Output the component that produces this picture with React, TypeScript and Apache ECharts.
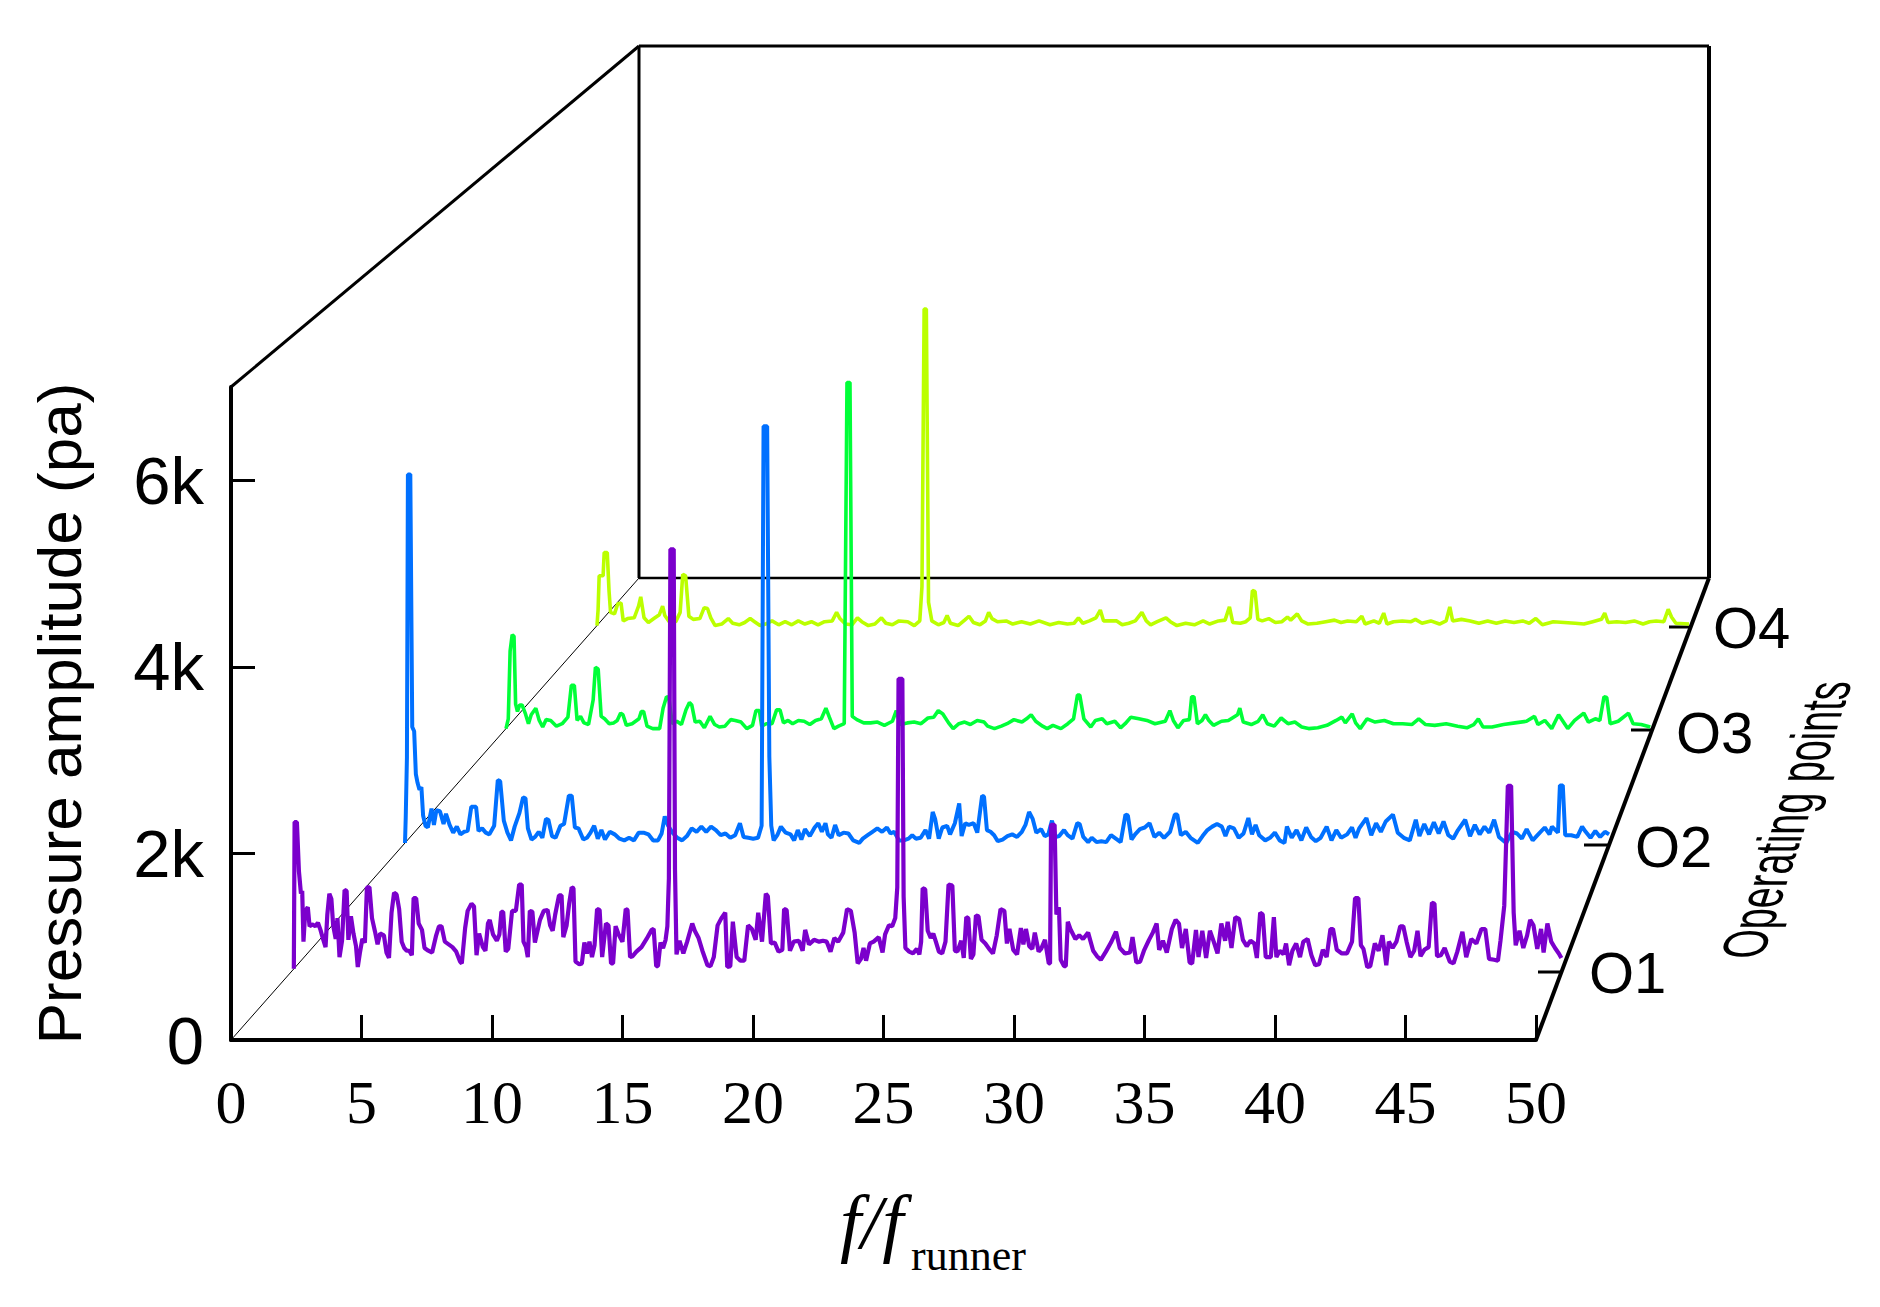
import React, { useEffect, useRef } from "react";
import * as echarts from "echarts";

const xTicks = [0, 5, 10, 15, 20, 25, 30, 35, 40, 45, 50];
const yTicks = [0, 2000, 4000, 6000];
const opNames = ["O1", "O2", "O3", "O4"];
const opColors = ["#7B00CC", "#0070FF", "#00FF38", "#BBFF00"];
const opWidths = [4.2, 4, 3.6, 3.6];

const O1: number[][] = [[0,0],[.03,1620],[.12,1620],[.2,1080],[.28,830],[.33,860],[.38,300],[.45,640],[.55,680],[.62,470],[.72,490],[.85,470],[.95,510],[1.05,430],[1.15,330],[1.25,240],[1.32,600],[1.4,830],[1.48,770],[1.55,480],[1.65,330],[1.72,560],[1.8,130],[1.9,310],[2.0,870],[2.08,860],[2.15,320],[2.25,580],[2.35,390],[2.45,250],[2.52,20],[2.6,170],[2.7,330],[2.8,290],[2.88,900],[2.98,900],[3.08,560],[3.2,410],[3.3,270],[3.4,390],[3.55,370],[3.65,180],[3.75,120],[3.85,620],[3.95,840],[4.05,820],[4.15,660],[4.25,300],[4.35,230],[4.45,200],[4.55,200],[4.65,150],[4.72,780],[4.82,780],[4.92,500],[5.05,430],[5.15,230],[5.3,200],[5.45,180],[5.6,360],[5.72,470],[5.82,470],[5.95,300],[6.1,270],[6.25,240],[6.4,190],[6.55,80],[6.62,60],[6.75,450],[6.85,640],[7.0,720],[7.1,690],[7.2,150],[7.3,390],[7.45,240],[7.55,200],[7.65,500],[7.72,540],[7.85,380],[8.0,310],[8.1,380],[8.18,630],[8.25,630],[8.35,190],[8.45,220],[8.6,640],[8.75,640],[8.88,930],[8.98,930],[9.05,300],[9.15,240],[9.22,130],[9.3,640],[9.4,630],[9.5,290],[9.7,540],[9.85,640],[10,650],[10.1,480],[10.2,420],[10.3,600],[10.45,810],[10.55,810],[10.62,350],[10.75,480],[10.85,720],[10.95,900],[11.02,890],[11.1,80],[11.25,50],[11.35,60],[11.45,290],[11.55,170],[11.65,300],[11.75,130],[11.85,260],[11.95,660],[12.05,650],[12.15,130],[12.3,500],[12.4,480],[12.5,60],[12.58,60],[12.68,470],[12.8,380],[12.95,300],[13.08,660],[13.15,650],[13.25,130],[13.35,140],[13.5,190],[13.7,240],[13.9,330],[14.1,430],[14.18,440],[14.28,30],[14.35,30],[14.45,290],[14.55,230],[14.65,320],[14.72,470],[14.78,1000],[14.84,4630],[14.97,4630],[15.02,1100],[15.08,160],[15.2,310],[15.35,170],[15.5,300],[15.7,500],[15.8,420],[15.95,340],[16.1,200],[16.3,40],[16.42,30],[16.55,130],[16.7,480],[16.85,560],[17.0,620],[17.08,20],[17.2,30],[17.3,520],[17.45,130],[17.6,90],[17.75,90],[17.9,480],[18.05,440],[18.2,320],[18.3,620],[18.45,300],[18.6,830],[18.68,800],[18.8,280],[18.95,290],[19.1,190],[19.25,210],[19.32,660],[19.42,650],[19.55,200],[19.7,300],[19.9,310],[20.05,200],[20.15,430],[20.3,270],[20.5,320],[20.7,300],[20.85,310],[21.0,300],[21.15,190],[21.3,340],[21.45,300],[21.65,400],[21.8,660],[21.95,640],[22.1,400],[22.22,60],[22.35,110],[22.45,230],[22.55,90],[22.7,280],[22.85,300],[23.05,350],[23.2,180],[23.3,380],[23.45,480],[23.58,470],[23.7,560],[23.78,900],[23.83,3200],[23.98,3200],[24.03,800],[24.1,230],[24.25,190],[24.4,170],[24.55,220],[24.65,160],[24.72,300],[24.78,890],[24.88,880],[24.98,420],[25.1,340],[25.2,390],[25.3,300],[25.42,190],[25.55,170],[25.68,300],[25.8,930],[25.95,920],[26.05,200],[26.15,190],[26.3,310],[26.4,120],[26.5,570],[26.58,560],[26.68,110],[26.78,160],[26.88,590],[26.98,580],[27.1,320],[27.25,280],[27.4,220],[27.55,170],[27.7,370],[27.85,660],[28.0,640],[28.1,280],[28.2,440],[28.35,210],[28.5,160],[28.65,450],[28.75,270],[28.85,440],[28.98,250],[29.1,220],[29.2,400],[29.35,190],[29.45,220],[29.6,320],[29.75,60],[29.8,60],[29.84,1590],[29.98,1590],[30.05,600],[30.15,680],[30.22,100],[30.35,30],[30.42,30],[30.5,520],[30.6,440],[30.8,330],[30.95,370],[31.1,330],[31.3,400],[31.5,200],[31.65,140],[31.8,100],[32.0,190],[32.2,290],[32.4,410],[32.55,230],[32.75,170],[32.95,180],[33.05,350],[33.2,70],[33.35,80],[33.5,200],[33.7,320],[33.85,400],[34.0,500],[34.1,210],[34.25,310],[34.4,180],[34.6,440],[34.75,540],[34.88,500],[35.0,230],[35.15,440],[35.3,70],[35.4,60],[35.55,430],[35.65,130],[35.8,420],[35.95,120],[36.1,420],[36.25,300],[36.4,170],[36.55,500],[36.7,310],[36.8,520],[36.95,230],[37.1,570],[37.25,550],[37.4,320],[37.55,250],[37.7,310],[37.85,280],[37.95,120],[38.08,620],[38.18,600],[38.3,130],[38.5,130],[38.62,570],[38.72,130],[38.85,200],[39.0,160],[39.1,280],[39.22,40],[39.35,200],[39.5,280],[39.65,130],[39.78,300],[39.95,330],[40.1,150],[40.25,40],[40.4,50],[40.55,210],[40.7,130],[40.85,440],[40.95,440],[41.1,210],[41.3,170],[41.5,170],[41.7,300],[41.82,780],[41.95,780],[42.05,260],[42.15,220],[42.3,20],[42.42,30],[42.6,280],[42.75,200],[42.9,370],[43.05,40],[43.15,300],[43.3,230],[43.45,300],[43.6,470],[43.72,470],[43.85,300],[44.0,130],[44.15,200],[44.28,420],[44.4,140],[44.55,210],[44.72,240],[44.85,730],[44.95,720],[45.05,140],[45.2,150],[45.35,230],[45.55,80],[45.7,60],[45.85,190],[46.05,410],[46.2,130],[46.4,330],[46.6,280],[46.8,440],[46.95,440],[47.1,110],[47.3,100],[47.45,90],[47.55,310],[47.7,700],[47.84,2020],[47.97,2020],[48.07,620],[48.15,260],[48.3,420],[48.45,230],[48.6,370],[48.72,540],[48.85,480],[49,220],[49.15,440],[49.25,180],[49.4,500],[49.55,300],[49.7,230],[49.85,170],[49.95,120]];

const O2: number[][] = [[0,0],[.03,300],[.08,1000],[.12,4290],[.22,4290],[.3,1350],[.38,1300],[.45,800],[.52,700],[.6,620],[.68,650],[.75,320],[.85,200],[.95,180],[1.1,400],[1.2,210],[1.3,380],[1.45,370],[1.6,220],[1.7,340],[1.85,210],[2,120],[2.15,190],[2.3,100],[2.45,130],[2.6,140],[2.75,420],[2.95,420],[3.05,140],[3.2,170],[3.35,120],[3.5,100],[3.7,200],[3.85,730],[3.95,720],[4.1,260],[4.25,120],[4.4,30],[4.55,190],[4.75,350],[4.9,530],[5.0,520],[5.1,170],[5.25,40],[5.4,70],[5.55,130],[5.7,60],[5.85,280],[5.95,270],[6.1,80],[6.25,60],[6.45,200],[6.6,220],[6.8,550],[6.92,550],[7.05,180],[7.2,170],[7.4,40],[7.55,60],[7.7,120],[7.85,200],[8.0,50],[8.15,150],[8.3,40],[8.5,130],[8.7,100],[8.9,50],[9.1,30],[9.3,60],[9.5,30],[9.7,120],[9.9,120],[10.1,100],[10.3,30],[10.5,30],[10.65,110],[10.78,310],[10.92,200],[11.1,120],[11.3,60],[11.5,30],[11.7,80],[11.9,170],[12.1,130],[12.3,190],[12.5,130],[12.7,190],[12.9,150],[13.1,90],[13.3,110],[13.5,60],[13.7,90],[13.9,230],[14.05,70],[14.25,60],[14.45,50],[14.65,60],[14.8,200],[14.88,4850],[15.03,4850],[15.12,1000],[15.2,200],[15.3,30],[15.45,90],[15.6,190],[15.8,120],[16,100],[16.15,30],[16.3,150],[16.45,40],[16.6,160],[16.8,80],[17,180],[17.15,230],[17.3,130],[17.45,230],[17.55,100],[17.7,60],[17.85,210],[18,90],[18.2,120],[18.4,110],[18.6,30],[18.85,0],[19,50],[19.2,90],[19.4,130],[19.6,170],[19.8,130],[20,180],[20.15,110],[20.3,130],[20.5,30],[20.7,30],[20.9,50],[21.05,90],[21.2,50],[21.4,60],[21.6,150],[21.75,50],[21.9,360],[22.0,280],[22.15,50],[22.3,180],[22.5,200],[22.62,100],[22.82,230],[23,460],[23.1,80],[23.25,230],[23.4,210],[23.6,230],[23.75,120],[23.95,550],[24.03,540],[24.15,150],[24.3,130],[24.45,90],[24.6,20],[24.8,40],[25,80],[25.2,100],[25.4,70],[25.6,130],[25.75,210],[25.9,360],[26.05,280],[26.2,120],[26.4,160],[26.55,80],[26.7,100],[26.85,260],[27,70],[27.15,80],[27.35,150],[27.5,90],[27.7,50],[27.9,230],[28.0,220],[28.15,70],[28.35,10],[28.5,60],[28.7,10],[28.9,20],[29.1,10],[29.3,90],[29.5,50],[29.7,10],[29.9,330],[30,320],[30.15,40],[30.3,100],[30.5,160],[30.7,180],[30.9,230],[31.1,70],[31.3,120],[31.5,60],[31.75,130],[31.95,330],[32.05,330],[32.2,90],[32.4,130],[32.6,60],[32.9,0],[33.1,80],[33.3,150],[33.5,190],[33.7,220],[33.9,190],[34.05,80],[34.2,190],[34.4,170],[34.6,60],[34.8,110],[35,290],[35.15,100],[35.3,210],[35.45,90],[35.7,30],[35.9,60],[36.1,120],[36.3,30],[36.5,0],[36.6,190],[36.8,60],[37,150],[37.2,30],[37.4,180],[37.6,70],[37.8,20],[38,60],[38.25,190],[38.45,30],[38.65,150],[38.85,60],[39.1,100],[39.3,180],[39.45,60],[39.6,170],[39.9,290],[40.1,90],[40.3,230],[40.5,130],[40.7,250],[41,330],[41.2,120],[41.45,60],[41.7,30],[41.95,270],[42.1,80],[42.3,220],[42.5,100],[42.7,240],[42.9,110],[43.1,250],[43.3,90],[43.5,50],[43.7,150],[44,270],[44.2,80],[44.4,210],[44.6,100],[44.8,190],[45,120],[45.2,270],[45.4,70],[45.7,0],[45.95,130],[46.15,110],[46.35,50],[46.55,160],[46.8,30],[47,90],[47.3,180],[47.5,100],[47.6,190],[47.85,120],[47.93,670],[48.05,670],[48.15,90],[48.4,90],[48.65,70],[48.85,190],[49,130],[49.2,60],[49.4,140],[49.6,70],[49.8,130],[49.97,100]];

const O3: number[][] = [[0,0],[.1,120],[.18,950],[.27,1150],[.35,1130],[.42,300],[.5,210],[.6,290],[.7,290],[.85,180],[.98,60],[1.1,170],[1.3,250],[1.45,100],[1.6,20],[1.75,110],[1.95,100],[2.2,30],[2.45,60],[2.7,140],[2.85,530],[2.98,530],[3.1,100],[3.25,150],[3.4,70],[3.6,50],[3.8,350],[3.9,750],[4.02,730],[4.15,150],[4.3,120],[4.5,60],[4.7,70],[4.85,100],[5,190],[5.1,170],[5.25,40],[5.5,60],[5.8,120],[5.9,210],[6,210],[6.15,30],[6.4,0],[6.7,0],[6.85,250],[7,390],[7.1,380],[7.25,60],[7.45,90],[7.65,50],[7.85,230],[8,320],[8.1,290],[8.25,80],[8.45,90],[8.65,10],[8.9,150],[9.1,50],[9.3,20],[9.55,30],[9.8,110],[10,100],[10.25,80],[10.5,0],[10.75,40],[10.9,220],[11.05,220],[11.15,30],[11.35,60],[11.6,60],[11.8,230],[11.95,230],[12.1,70],[12.3,100],[12.5,60],[12.75,100],[13,90],[13.25,50],[13.5,100],[13.75,120],[13.95,250],[14.1,140],[14.3,0],[14.5,30],[14.75,60],[14.87,4240],[15,4240],[15.1,150],[15.3,110],[15.6,70],[15.9,70],[16.2,80],[16.5,40],[16.85,90],[17.02,220],[17.2,50],[17.5,70],[17.8,80],[18.1,60],[18.4,130],[18.65,140],[18.85,220],[19.05,180],[19.3,70],[19.5,0],[19.75,60],[20,80],[20.25,50],[20.55,100],[20.85,80],[21,30],[21.3,0],[21.6,30],[21.85,60],[22.15,110],[22.5,80],[22.7,120],[22.9,170],[23.1,90],[23.4,30],[23.6,0],[23.85,40],[24.2,0],[24.5,60],[24.75,120],[24.92,410],[25.02,410],[25.2,120],[25.5,20],[25.7,100],[26,120],[26.2,60],[26.55,90],[26.8,10],[27,60],[27.25,140],[27.6,120],[27.95,100],[28.3,60],[28.75,90],[28.95,220],[29.1,100],[29.3,10],[29.55,100],[29.8,110],[29.9,390],[30,390],[30.15,60],[30.35,100],[30.5,170],[30.65,100],[30.85,40],[31.2,90],[31.5,100],[31.9,170],[32,250],[32.15,80],[32.5,50],[32.8,90],[33,170],[33.2,60],[33.5,30],[33.8,130],[34.1,60],[34.4,80],[34.7,20],[35.0,0],[35.4,10],[35.8,40],[36.2,100],[36.45,140],[36.6,70],[36.9,180],[37.05,70],[37.25,0],[37.55,120],[37.9,80],[38.3,100],[38.7,60],[39.1,60],[39.5,50],[39.8,120],[40.1,50],[40.5,40],[41,60],[41.5,30],[41.9,10],[42.2,50],[42.4,120],[42.6,20],[43,20],[43.5,50],[44,70],[44.5,90],[44.85,150],[45,50],[45.3,100],[45.6,0],[45.9,170],[46.3,0],[46.6,100],[47,190],[47.2,80],[47.5,120],[47.7,100],[47.88,390],[48,380],[48.15,60],[48.5,90],[48.95,190],[49.15,60],[49.5,50],[49.9,20]];

const O4: number[][] = [[0,0],[.05,200],[.1,640],[.28,640],[.33,940],[.47,940],[.55,450],[.62,170],[.8,150],[.95,280],[1.1,290],[1.2,60],[1.4,90],[1.7,100],[1.9,250],[2,370],[2.15,100],[2.35,40],[2.6,90],[2.85,140],[3,250],[3.1,130],[3.3,50],[3.6,50],[3.8,170],[3.92,660],[4.05,640],[4.2,120],[4.4,80],[4.7,90],[4.9,230],[5.05,220],[5.2,100],[5.4,0],[5.7,20],[6,90],[6.2,30],[6.5,10],[6.75,40],[7,90],[7.2,50],[7.45,0],[7.7,20],[8,60],[8.3,10],[8.6,50],[8.9,10],[9.2,60],[9.5,20],[9.8,50],[10.1,10],[10.4,50],[10.75,60],[10.95,170],[11.1,90],[11.35,20],[11.65,10],[11.9,100],[12.1,50],[12.4,0],[12.7,20],[13,100],[13.2,30],[13.5,10],[13.8,60],[14.2,50],[14.5,0],[14.75,60],[14.85,500],[14.95,4070],[15.05,4070],[15.15,300],[15.3,60],[15.6,10],[15.85,40],[16,130],[16.15,30],[16.5,0],[16.8,70],[17,120],[17.2,40],[17.5,10],[17.75,60],[17.9,170],[18.05,90],[18.3,50],[18.7,60],[19,20],[19.4,50],[19.8,20],[20.2,60],[20.7,10],[21.1,40],[21.5,20],[21.8,30],[22,100],[22.2,30],[22.5,60],[22.8,100],[23,200],[23.15,60],[23.4,60],[23.75,60],[24,10],[24.3,30],[24.6,60],[24.9,170],[25.1,60],[25.3,10],[25.6,50],[26,100],[26.2,50],[26.5,0],[26.9,30],[27.3,10],[27.7,60],[28,20],[28.4,60],[28.7,70],[28.9,240],[29.05,40],[29.4,30],[29.65,50],[29.85,100],[29.95,450],[30.07,440],[30.2,80],[30.4,60],[30.7,90],[31,40],[31.3,50],[31.55,110],[31.7,70],[32,150],[32.2,60],[32.5,20],[32.9,30],[33.3,50],[33.7,70],[34,40],[34.3,60],[34.7,50],[34.95,120],[35.1,20],[35.5,60],[35.75,30],[35.95,160],[36.1,20],[36.4,50],[36.8,60],[37.2,50],[37.4,80],[37.7,30],[38.1,60],[38.5,20],[38.8,60],[38.97,240],[39.1,60],[39.5,80],[39.9,60],[40.3,30],[40.7,60],[41.1,30],[41.5,60],[41.9,40],[42.3,60],[42.6,30],[42.9,90],[43.2,10],[43.7,50],[44.2,40],[44.7,30],[45.1,20],[45.5,50],[45.9,80],[46.05,160],[46.2,40],[46.6,50],[47,40],[47.4,60],[47.8,20],[48.1,50],[48.4,60],[48.75,50],[48.95,210],[49.1,110],[49.3,30],[49.9,20]];

const opSeries = [O1, O2, O3, O4];
const opDepth = [0.154, 0.4265, 0.674, 0.897];

// Projection of the box: front plane to back plane
const F = { left: 231, right: 1536, bottom: 1040, top: 387 };
const B = { left: 639, right: 1709, bottom: 578, top: 46 };
const lerp = (a: number, b: number, t: number) => a + (b - a) * t;

const labelPos = [
  { x: 1589, y: 972, tx: [1538, 1562], ty: 972 },
  { x: 1635, y: 846, tx: [1584, 1610], ty: 845 },
  { x: 1676, y: 732, tx: [1631, 1652], ty: 730 },
  { x: 1713, y: 627, tx: [1669, 1691], ty: 627 },
];

const seg = (x1: number, y1: number, x2: number, y2: number, w: number) => ({
  type: "line",
  z: 0,
  silent: true,
  shape: { x1, y1, x2, y2 },
  style: { stroke: "#000", lineWidth: w },
});

// Writes a 2x2 map as rotation * scale * rotation, so a text can be sheared by nested elements.
function decompose(a: number, b: number, c: number, d: number) {
  const E = (a + d) / 2, Ff = (a - d) / 2, G = (c + b) / 2, H = (c - b) / 2;
  const Q = Math.hypot(E, H), R = Math.hypot(Ff, G);
  const a1 = Math.atan2(G, Ff), a2 = Math.atan2(H, E);
  return { sx: Q + R, sy: Q - R, outer: -(a2 + a1) / 2, inner: -(a2 - a1) / 2 };
}

function buildOption() {
  const grids: any[] = [
    { left: F.left, top: F.top, width: F.right - F.left, height: F.bottom - F.top, show: false },
  ];
  const xAxes: any[] = [
    {
      type: "value",
      gridIndex: 0,
      min: 0,
      max: 50,
      interval: 5,
      axisLine: { show: true, lineStyle: { color: "#000", width: 4 } },
      axisTick: { show: true, inside: true, length: 25, lineStyle: { color: "#000", width: 3 } },
      axisLabel: {
        show: true,
        margin: 31,
        color: "#000",
        fontFamily: "Liberation Serif",
        fontSize: 62,
        customValues: xTicks,
      },
      splitLine: { show: false },
    },
  ];
  const yAxes: any[] = [
    {
      type: "value",
      gridIndex: 0,
      min: 0,
      max: 7000,
      name: "Pressure amplitude (pa)",
      nameLocation: "middle",
      nameGap: 141,
      nameTextStyle: { color: "#000", fontFamily: "Liberation Sans", fontSize: 62 },
      axisLine: { show: true, lineStyle: { color: "#000", width: 4 } },
      axisTick: { show: true, inside: true, length: 24, lineStyle: { color: "#000", width: 3 }, customValues: yTicks },
      axisLabel: {
        show: true,
        margin: 27,
        color: "#000",
        fontFamily: "Liberation Sans",
        fontSize: 67,
        customValues: yTicks,
        formatter: (v: number) => (v === 0 ? "0" : `${v / 1000}k`),
      },
      splitLine: { show: false },
    },
  ];
  const series: any[] = [];

  opSeries.forEach((_, i) => {
    const t = opDepth[i];
    const left = lerp(F.left, B.left, t);
    const right = lerp(F.right, B.right, t);
    const bottom = lerp(F.bottom, B.bottom, t);
    const top = lerp(F.top, B.top, t);
    grids.push({ left, top, width: right - left, height: bottom - top, show: false });
    xAxes.push({ type: "value", gridIndex: i + 1, min: 0, max: 50, show: false });
    yAxes.push({ type: "value", gridIndex: i + 1, min: 0, max: 7000, show: false });
  });

  // back lines first, so the front series overlap them
  for (let i = opSeries.length - 1; i >= 0; i--) {
    series.push({
      type: "line",
      name: opNames[i],
      xAxisIndex: i + 1,
      yAxisIndex: i + 1,
      data: opSeries[i],
      showSymbol: false,
      clip: false,
      z: 10 + (opSeries.length - i),
      lineStyle: { color: opColors[i], width: opWidths[i] },
      itemStyle: { color: opColors[i] },
    });
  }

  const graphic: any[] = [
    seg(B.left, B.top, B.right, B.top, 3),
    seg(B.left, B.top, B.left, B.bottom, 3),
    seg(B.right, B.top, B.right, B.bottom, 4),
    seg(B.left, B.bottom, B.right, B.bottom, 2.5),
    seg(F.left, F.top, B.left, B.top, 3),
    seg(F.left, F.bottom, B.left, B.bottom, 1),
    seg(F.right, F.bottom, B.right, B.bottom, 4),
  ];
  opNames.forEach((n, i) => {
    const p = labelPos[i];
    graphic.push(seg(p.tx[0], p.ty, p.tx[1], p.ty, 3));
    graphic.push({
      type: "text",
      x: p.x,
      y: p.y,
      style: {
        text: n,
        fill: "#000",
        font: '58px "Liberation Sans"',
        textAlign: "left",
        textVerticalAlign: "middle",
      },
    });
  });

  // "Operating points": slanted baseline, letter stems stay horizontal
  const along = 0.64;
  const slant = (72 * Math.PI) / 180;
  const m = decompose(along * Math.cos(slant), 1, -along * Math.sin(slant), 0);
  graphic.push({
    type: "group",
    x: 1786,
    y: 820,
    rotation: m.outer,
    scaleX: m.sx,
    scaleY: m.sy,
    children: [
      {
        type: "text",
        rotation: m.inner,
        style: {
          text: "Operating points",
          fill: "#000",
          font: '62px "Liberation Sans"',
          textAlign: "center",
          textVerticalAlign: "middle",
        },
      },
    ],
  });

  graphic.push({
    type: "text",
    x: 840,
    y: 1222,
    style: {
      text: "f/f",
      fill: "#000",
      font: 'italic 76px "Liberation Serif"',
      textAlign: "left",
      textVerticalAlign: "middle",
    },
  });
  graphic.push({
    type: "text",
    x: 911,
    y: 1255,
    style: {
      text: "runner",
      fill: "#000",
      font: '44px "Liberation Serif"',
      textAlign: "left",
      textVerticalAlign: "middle",
    },
  });

  return { animation: false, backgroundColor: "#fff", grid: grids, xAxis: xAxes, yAxis: yAxes, series, graphic };
}

export default function App() {
  const ref = useRef<HTMLDivElement>(null);
  useEffect(() => {
    document.body.style.margin = "0";
    const chart = echarts.init(ref.current!, undefined, { renderer: "svg" });
    chart.setOption(buildOption() as any);
    return () => chart.dispose();
  }, []);
  return <div ref={ref} style={{ width: 1880, height: 1307, background: "#fff" }} />;
}
